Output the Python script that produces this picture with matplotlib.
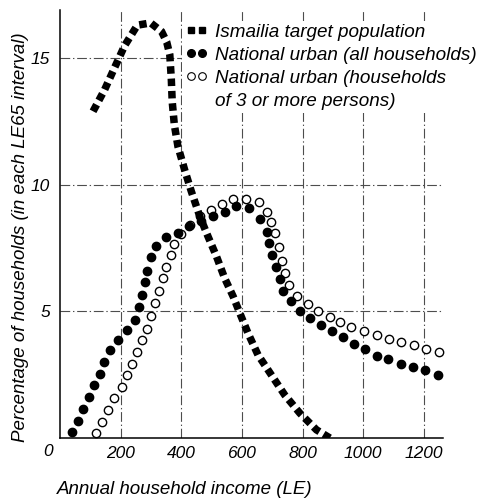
import numpy as np
import matplotlib
matplotlib.use('Agg')
import matplotlib.pyplot as plt
from matplotlib.lines import Line2D

plt.rcParams['font.family'] = ['Liberation Sans', 'DejaVu Sans']
plt.rcParams['font.style'] = 'italic'
plt.rcParams['lines.scale_dashes'] = False

# Ismailia target population (read along the curve of squares)
ism_x = [109, 147, 178, 213, 255, 299, 335, 352, 362, 367, 370, 377, 389, 411,
         433, 461, 488, 516, 543, 571, 593, 620, 653, 697, 741, 791, 846, 890]
ism_y = [12.9, 13.75, 14.57, 15.49, 16.30, 16.39, 16.05, 15.63, 15.14, 14.19,
         13.29, 12.37, 11.51, 10.59, 9.74, 8.75, 7.96, 7.17, 6.31, 5.59, 4.93,
         4.14, 3.28, 2.49, 1.70, 0.98, 0.32, 0.0]

# National urban, all households (filled circles)
all_x = [38, 59, 76, 94, 112, 131, 145, 166, 191, 222, 246, 260, 270, 279, 287,
         299, 318, 350, 389, 425, 464, 505, 543, 581, 622, 661, 681, 690, 700,
         712, 726, 736, 762, 791, 824, 860, 897, 933, 968, 1005, 1044, 1082,
         1123, 1164, 1203, 1245]
all_y = [0.25, 0.68, 1.13, 1.63, 2.09, 2.53, 2.99, 3.48, 3.87, 4.25, 4.66, 5.16,
         5.65, 6.15, 6.61, 7.14, 7.59, 7.93, 8.10, 8.36, 8.58, 8.75, 8.94, 9.17,
         9.08, 8.64, 8.15, 7.69, 7.21, 6.75, 6.27, 5.81, 5.41, 5.03, 4.73, 4.47,
         4.23, 3.98, 3.72, 3.51, 3.24, 3.11, 2.92, 2.82, 2.67, 2.49]

# National urban, households of 3 or more persons (open circles)
big_x = [120, 138, 157, 177, 203, 222, 237, 253, 271, 286, 301, 314, 326, 339,
         351, 367, 377, 398, 428, 461, 497, 533, 571, 613, 655, 681, 697, 710,
         722, 733, 743, 755, 782, 817, 851, 889, 923, 961, 1004, 1044, 1084,
         1126, 1166, 1208, 1251]
big_y = [0.21, 0.64, 1.09, 1.58, 2.03, 2.47, 2.92, 3.39, 3.85, 4.30, 4.82, 5.34,
         5.82, 6.30, 6.77, 7.23, 7.65, 8.06, 8.42, 8.76, 9.01, 9.25, 9.43, 9.45,
         9.33, 8.93, 8.52, 8.08, 7.56, 6.98, 6.50, 6.03, 5.59, 5.31, 5.02, 4.76,
         4.60, 4.39, 4.24, 4.07, 3.92, 3.81, 3.66, 3.53, 3.41]

xticks = [200, 400, 600, 800, 1000, 1200]
yticks = [5, 10, 15]
labels = ['Ismailia target population',
          'National urban (all households)',
          'National urban (households',
          'of 3 or more persons)']

fig = plt.figure(figsize=(4.79, 5.0), dpi=100)
ax = fig.add_axes([60 / 479, 62 / 500, 383 / 479, 428 / 500])

# open circles below, filled on top, squares on top of all
ax.plot(big_x, big_y, linestyle='none', marker='o', markersize=6,
        markerfacecolor='white', markeredgecolor='black', markeredgewidth=1.0,
        zorder=3, clip_on=False)
ax.plot(all_x, all_y, linestyle='none', marker='o', markersize=6,
        color='black', zorder=4, clip_on=False)
ax.plot(ism_x, ism_y, color='black', linewidth=5.4, dashes=(5.4, 3.5),
        dash_capstyle='butt', dash_joinstyle='miter', zorder=5)

ax.set_xlim(0, 1263)
ax.set_ylim(0, 16.9)
ax.set_xticks(xticks)
ax.set_yticks(yticks)
ax.tick_params(length=0, labelsize=12.5)
ax.tick_params(axis='x', pad=6)
ax.tick_params(axis='y', pad=7)

ax.grid(True, color='0.3', linewidth=0.8, linestyle=(0, (7, 2, 1, 2)))
ax.set_axisbelow(True)
for s in ['top', 'right']:
    ax.spines[s].set_visible(False)
for s in ['left', 'bottom']:
    ax.spines[s].set_linewidth(1.1)

fig.text(48 / 479, 1 - 452 / 500, '0', ha='center', va='center', fontsize=12.5)

# axis titles placed where the reference has them
fig.text(185 / 479, 1 - 489 / 500, 'Annual household income (LE)',
         ha='center', va='center', fontsize=13.5)
fig.text(21 / 479, 1 - 237 / 500,
         'Percentage of households (in each LE65 interval)',
         ha='center', va='center', rotation=90, fontsize=13.5)

handles = [
    Line2D([], [], linestyle='none', marker='s', markersize=5, color='black'),
    Line2D([], [], linestyle='none', marker='o', markersize=5.5, color='black'),
    Line2D([], [], linestyle='none', marker='o', markersize=5.5,
           markerfacecolor='white', markeredgecolor='black', markeredgewidth=0.8),
    Line2D([], [], linestyle='none'),
]
leg = ax.legend(handles, labels, loc='upper left', numpoints=2,
                bbox_to_anchor=(182 / 479, 1 - 21 / 500),
                bbox_transform=fig.transFigure, borderaxespad=0, borderpad=0.15,
                handlelength=1.2, handletextpad=0.42, labelspacing=0.3,
                prop={'size': 13.6, 'style': 'italic'},
                frameon=True, facecolor='white', edgecolor='none', framealpha=1,
                fancybox=False)

fig.savefig('out.png', dpi=100)
